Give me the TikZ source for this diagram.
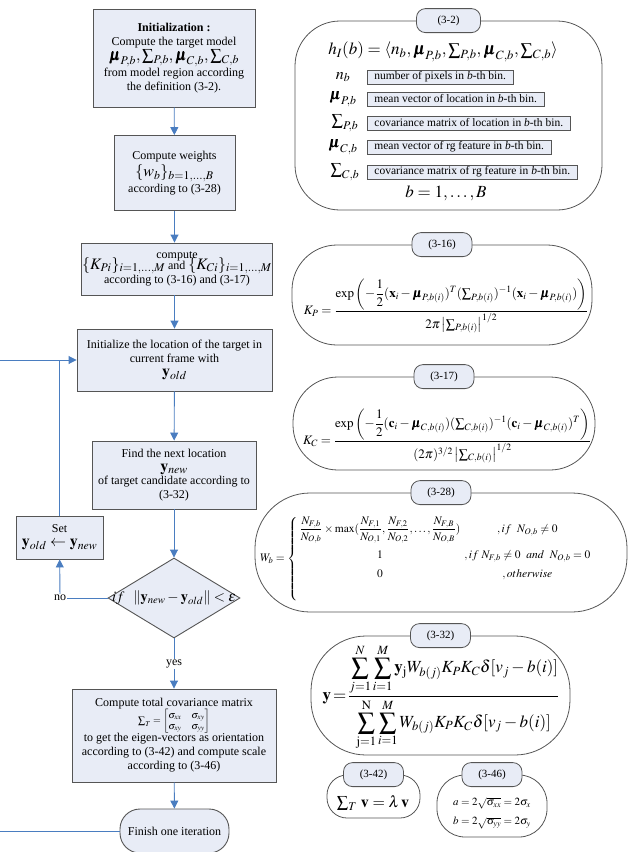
\documentclass[tikz,border=0pt]{standalone}
\usepackage{amsmath}
\usepackage{mathptmx}
\usepackage{bm}
\usepackage[no-math]{fontspec}
\setmainfont{Liberation Serif}
\usepackage{tikz}
\usetikzlibrary{arrows.meta, positioning, shapes.geometric, calc}
\definecolor{cBox}{HTML}{E8ECF6}
\definecolor{cArr}{HTML}{4A7DC0}
\definecolor{cEdge}{HTML}{555555}
\newcommand{\eqbig}{\fontsize{16}{18}\selectfont}
\newcommand{\eqmid}{\fontsize{13}{15}\selectfont}
\newcommand{\ssum}{{\textstyle\sum}}

\begin{document}
\begin{tikzpicture}[x=1pt, y=-1pt,
  box/.style={draw=cEdge, fill=cBox, line width=0.9pt, align=center, inner sep=1pt, font=\fontsize{12}{14}\selectfont},
  panel/.style={draw=cEdge, line width=0.8pt},
  tag/.style={draw=cEdge, fill=cBox, line width=0.8pt, rounded corners=9pt, minimum width=60pt, minimum height=24pt, font=\fontsize{11}{13}\selectfont},
  desc/.style={draw=cEdge, fill=cBox, line width=0.8pt, anchor=west, inner xsep=7pt, inner ysep=0.5pt, minimum height=14pt, font=\fontsize{11.5}{13}\selectfont},
  sym/.style={font=\eqbig},
  lbl/.style={font=\fontsize{12}{14}\selectfont},
  arr/.style={-{Triangle[length=8pt, width=8pt]}, cArr, line width=0.9pt},
  lnk/.style={cArr, line width=0.9pt}
]
\useasboundingbox (0,0) rectangle (628,852);

% flow chart
\node[box, minimum width=162pt, minimum height=98pt] (init) at (174,58)
  {\textbf{Initialization :}\\Compute the target model\\[1pt]
   {\eqbig$\bm{\mu}_{P,b},\ssum_{P,b},\bm{\mu}_{C,b},\ssum_{C,b}$}\\
   from model region according\\the definition (3-2).};
\node[box, minimum width=121pt, minimum height=75pt] (wts) at (174.5,173)
  {Compute weights\\[2pt]{\eqbig$\{w_b\}_{b=1,\ldots,B}$}\\[2pt]according to (3-28)};
\node[box, minimum width=190pt, minimum height=52pt] (kk) at (177,269)
  {compute\\[-5pt]{\eqbig$\{K_{Pi}\}_{i=1,\ldots,M}$} and {\eqbig$\{K_{Ci}\}_{i=1,\ldots,M}$}\\according to (3-16) and (3-17)};
\node[box, minimum width=195pt, minimum height=62pt] (loc) at (174.5,360)
  {Initialize the location of the target in\\current frame with\\{\eqbig$\mathbf{y}_{old}$}};
\node[box, minimum width=164pt, minimum height=68pt] (find) at (174,475)
  {Find the next location\\{\eqbig$\mathbf{y}_{new}$}\\[-1pt]of target candidate according to\\(3-32)};
\node[box, minimum width=87pt, minimum height=43pt] (set) at (59.5,537.5)
  {Set\\{\eqbig$\mathbf{y}_{old}\leftarrow\mathbf{y}_{new}$}};
\node[diamond, draw=cEdge, fill=cBox, line width=0.9pt, inner sep=0pt, minimum width=132pt, minimum height=80pt] (cond) at (174,598) {};
\node[lbl, font=\fontsize{14.5}{16}\selectfont] (condtxt) at (cond.center) {$if\ \ \left\|\mathbf{y}_{new}-\mathbf{y}_{old}\right\|<\varepsilon$};
\node[box, minimum width=204pt, minimum height=93pt] (cmp) at (174,735.5)
  {Compute total covariance matrix\\[-1pt]
   {\fontsize{10}{12}\selectfont$\ssum_T=\left[\begin{array}{@{}cc@{}}\sigma_{xx}&\sigma_{xy}\\[-1pt] \sigma_{xy}&\sigma_{yy}\end{array}\right]$}\\[-1pt]
   to get the eigen-vectors as orientation\\according to (3-42) and compute scale\\according to (3-46)};
\node[box, rounded corners=20pt, minimum width=109pt, minimum height=44pt] (fin) at (174.5,831) {Finish one iteration};
\node[lbl, fill=white, inner sep=1pt] (no) at (60,598) {no};
\node[lbl, fill=white, inner sep=1pt] (yes) at (174,664) {yes};
\coordinate (lin) at (0,360);
\coordinate (lout) at (0,831);

\draw[arr] (init) -- (wts);
\draw[arr] (wts) -- (wts |- kk.north);
\draw[arr] (loc |- kk.south) -- (loc);
\draw[arr] (loc) -- (find);
\draw[arr] (find) -- (cond);
\draw[lnk] (cond) -- (yes);
\draw[arr] (yes) -- (cmp);
\draw[arr] (cmp) -- (fin);
\draw[lnk] (cond.west) -- (no);
\draw[arr] (no) -- (set);
\draw[arr] (set) |- (loc);
\draw[lnk] (lin) -- (set |- loc.west);
\draw[lnk] (fin) -- (lout);

% equation panels
\node[panel, rounded corners=45pt, minimum width=307pt, minimum height=189pt] (p2) at (448.5,115.5) {};
\node[panel, rounded corners=45pt, minimum width=300pt, minimum height=100pt] (p16) at (442,295) {};
\node[panel, rounded corners=45pt, minimum width=302pt, minimum height=93pt] (p17) at (444,423.5) {};
\node[panel, rounded corners=55pt, minimum width=372pt, minimum height=119pt] (p28) at (441,552.5) {};
\node[panel, rounded corners=55pt, minimum width=259pt, minimum height=119pt] (p32) at (440.5,695.5) {};
\node[panel, rounded corners=20pt, minimum width=93pt, minimum height=43pt] (p42) at (373.5,796.5) {};
\node[panel, rounded corners=28pt, minimum width=110pt, minimum height=62pt] (p46) at (492,806) {};

\node[tag, minimum width=64pt] (t2) at (p2.north) {(3-2)};
\node[tag] (t16) at (p16.north) {(3-16)};
\node[tag] (t17) at (p17.north) {(3-17)};
\node[tag] (t28) at (p28.north) {(3-28)};
\node[tag] (t32) at (p32.north) {(3-32)};
\node[tag] (t42) at (p42.north) {(3-42)};
\node[tag] (t46) at (p46.north) {(3-46)};

% (3-2)
\node[font=\fontsize{17}{19}\selectfont] (hdef) at (443,52)
  {$h_I(b)=\langle n_b,\bm{\mu}_{P,b},\ssum_{P,b},\bm{\mu}_{C,b},\ssum_{C,b}\rangle$};
\node[sym] (snb) at (343,77) {$n_b$};
\node[desc] (dnb) at (367,77) {number of pixels in \textit{b}-th bin.};
\node[sym] (smp) at (343,99) {$\bm{\mu}_{P,b}$};
\node[desc] (dmp) at (367,99) {mean vector of location in \textit{b}-th bin.};
\node[sym] (ssp) at (345,123) {$\ssum_{P,b}$};
\node[desc] (dsp) at (367,123) {covariance matrix of location in \textit{b}-th bin.};
\node[sym] (smc) at (343,147) {$\bm{\mu}_{C,b}$};
\node[desc] (dmc) at (367,147) {mean vector of rg feature in \textit{b}-th bin.};
\node[sym] (ssc) at (345,172) {$\ssum_{C,b}$};
\node[desc] (dsc) at (367,172) {covariance matrix of rg feature in \textit{b}-th bin.};
\node[sym, font=\fontsize{17}{19}\selectfont] (brng) at (446,193) {$b=1,\ldots,B$};

% (3-16)
\node[font=\eqmid] (kp) at (446,306)
  {$K_P=\dfrac{\exp\left(-\dfrac{1}{2}(\mathbf{x}_i-\bm{\mu}_{P,b(i)})^T(\ssum_{P,b(i)})^{-1}(\mathbf{x}_i-\bm{\mu}_{P,b(i)})\right)}{2\pi\left|\ssum_{P,b(i)}\right|^{1/2}}$};
% (3-17)
\node[font=\eqmid] (kc) at (447,436)
  {$K_C=\dfrac{\exp\left(-\dfrac{1}{2}(\mathbf{c}_i-\bm{\mu}_{C,b(i)})(\ssum_{C,b(i)})^{-1}(\mathbf{c}_i-\bm{\mu}_{C,b(i)})^T\right)}{(2\pi)^{3/2}\left|\ssum_{C,b(i)}\right|^{1/2}}$};
% (3-28)
\node[font=\fontsize{11.5}{14}\selectfont, anchor=west, inner sep=0pt] (wb) at (260,559)
  {\arraycolsep=2pt$W_b=\left\{\begin{array}{cc}
    \dfrac{N_{F,b}}{N_{O,b}}\times\max(\dfrac{N_{F,1}}{N_{O,1}},\dfrac{N_{F,2}}{N_{O,2}},\ldots,\dfrac{N_{F,B}}{N_{O,B}}) & ,if\ \ N_{O,b}\neq0\\[12pt]
    1 & ,if\ N_{F,b}\neq0\ \ and\ \ N_{O,b}=0\\[5pt]
    0 & ,otherwise\\[6pt]
    &
  \end{array}\right.$};
% (3-32)
\node[font=\fontsize{17}{19}\selectfont] (yy) at (441,697)
  {$\mathbf{y}\!=\!\dfrac{\displaystyle\sum_{j=1}^{N}\sum_{i=1}^{M}\mathbf{y}_{\mathrm{j}}W_{b(j)}K_PK_C\delta[v_j-b(i)]}{\displaystyle\sum_{\mathrm{j}=1}^{\mathrm{N}}\sum_{i=1}^{M}W_{b(j)}K_PK_C\delta[v_j-b(i)]}$};
% (3-42)
\node[font=\eqbig] (eig) at (373,803) {$\ssum_T\ \mathbf{v}=\lambda\,\mathbf{v}$};
% (3-46)
\node[font=\fontsize{11}{19}\selectfont, align=center] (scl) at (492,813)
  {$a=2\sqrt{\sigma_{xx}}=2\sigma_x$\\$b=2\sqrt{\sigma_{yy}}=2\sigma_y$};
\end{tikzpicture}
\end{document}
